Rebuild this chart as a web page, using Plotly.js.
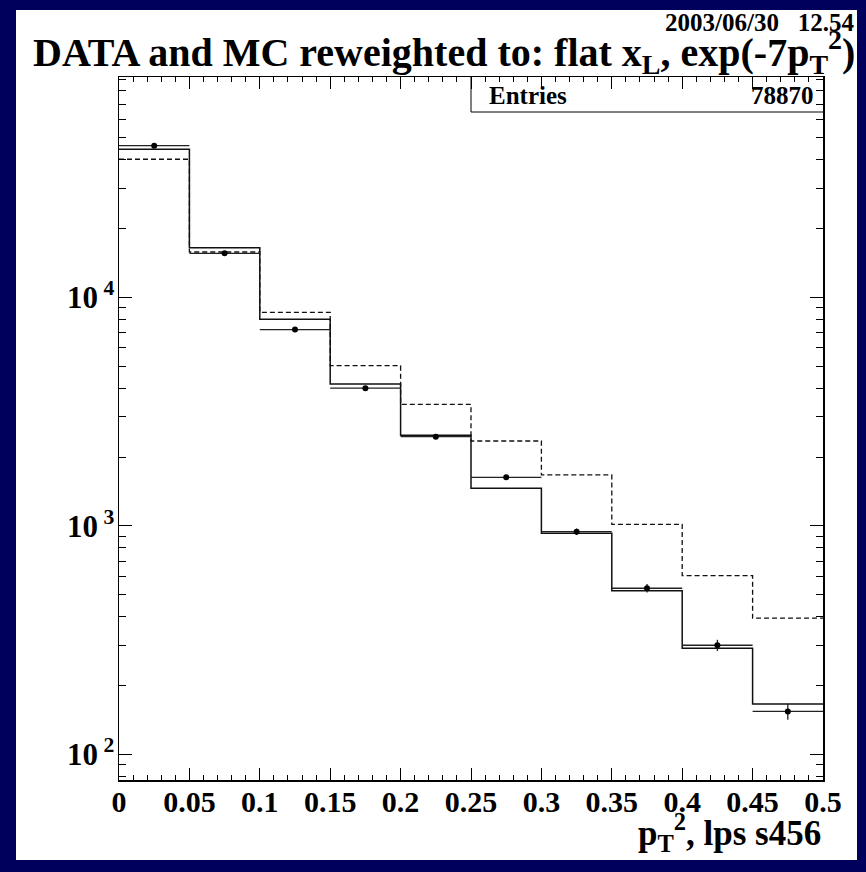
<!DOCTYPE html>
<html>
<head>
<meta charset="utf-8">
<script src="https://cdn.plot.ly/plotly-3.0.1.min.js"></script>
<style>
html,body{margin:0;padding:0;background:#00005c;width:866px;height:872px;overflow:hidden;}
#plot{position:absolute;left:16px;top:10px;width:841px;height:850px;}
</style>
</head>
<body>
<div id="plot"></div>
<script>
// bin edges (p_T^2)
const binEdges = [0, 0.05, 0.1, 0.15, 0.2, 0.25, 0.3, 0.35, 0.4, 0.45, 0.5];
const binCenters = [0.025, 0.075, 0.125, 0.175, 0.225, 0.275, 0.325, 0.375, 0.425, 0.475];
// DATA points
const dataValues = [46080, 15580, 7220, 4000, 2455, 1630, 942, 533, 300, 154];
const dataErrors = [215, 125, 85, 63, 50, 40, 31, 23, 17, 12.4];
// MC reweighted (solid)
const mcReweighted = [44430, 16490, 8010, 4175, 2489, 1459, 927, 520, 291, 166];
// MC original (dashed)
const mcOriginal = [40180, 15780, 8590, 5020, 3396, 2350, 1669, 1015, 605, 394];
// tick labels
const xTickVals = [0, 0.05, 0.1, 0.15, 0.2, 0.25, 0.3, 0.35, 0.4, 0.45, 0.5];
const xTickText = ['0', '0.05', '0.1', '0.15', '0.2', '0.25', '0.3', '0.35', '0.4', '0.45', '0.5'];
const yTickVals = [100, 1000, 10000];
const yTickText = ['10<sup> 2</sup>', '10<sup> 3</sup>', '10<sup> 4</sup>'];
const entries = 78870;

const FONT = 'Liberation Serif, Times New Roman, serif';

function stepY(vals){ return vals.concat([vals[vals.length-1]]); }

const yMinor = [];
for (let d = 10; d <= 10000; d *= 10) for (let k = 2; k <= 9; k++) yMinor.push(k*d);

const traces = [
  {x: binEdges, y: stepY(mcOriginal), mode: 'lines', line: {shape: 'hv', color: '#111', width: 1.3, dash: '5px,3px'}, hoverinfo: 'skip'},
  {x: binEdges, y: stepY(mcReweighted), mode: 'lines', line: {shape: 'hv', color: '#111', width: 1.5}, hoverinfo: 'skip'},
  {x: binCenters, y: dataValues, mode: 'markers', marker: {color: '#000', size: 6},
   error_x: {type: 'constant', value: 0.025, width: 0, color: '#222', thickness: 1.3},
   error_y: {type: 'data', array: dataErrors, width: 0, color: '#222', thickness: 1.3}}
];

// pixel helpers relative to plot area (x:119-823, y:77-780 in page)
const L = 119, R = 823, T = 77, B = 780;
const px = X => (X - L) / (R - L);
const py = Y => (B - Y) / (B - T);

const layout = {
  width: 841, height: 850,
  margin: {l: 103, r: 34, t: 67, b: 80},
  paper_bgcolor: '#ffffff', plot_bgcolor: '#ffffff',
  showlegend: false,
  font: {family: FONT, color: '#000', size: 30, weight: 'bold'},
  xaxis: {
    range: [0, 0.5], tickmode: 'array', tickvals: xTickVals, ticktext: xTickText,
    ticks: 'inside', ticklen: 12, tickwidth: 1, tickcolor: '#000',
    mirror: 'allticks', showline: true, linecolor: '#000', linewidth: 1.5,
    showgrid: false, zeroline: false, ticklabelstandoff: -6,
    tickfont: {family: FONT, size: 30, weight: 'bold'},
    minor: {dtick: 0.01, tick0: 0, ticks: 'inside', ticklen: 5, tickcolor: '#000', tickwidth: 1, showgrid: false}
  },
  yaxis: {
    type: 'log', range: [1.8875, 4.964], tickmode: 'array', tickvals: yTickVals, ticktext: yTickText,
    ticks: 'inside', ticklen: 13, tickwidth: 1, tickcolor: '#000',
    mirror: 'allticks', showline: true, linecolor: '#000', linewidth: 1.5,
    showgrid: false, zeroline: false, ticklabelstandoff: -3,
    tickfont: {family: FONT, size: 31, weight: 'bold'},
    minor: {tickmode: 'array', tickvals: yMinor, ticks: 'inside', ticklen: 7, tickcolor: '#000', tickwidth: 1, showgrid: false}
  },
  shapes: [
    {type: 'line', xref: 'x', yref: 'paper', x0: 0.25, x1: 0.25, y0: py(112), y1: 1, line: {color: '#000', width: 1}},
    {type: 'line', xref: 'x', yref: 'paper', x0: 0.25, x1: 0.5, y0: py(112), y1: py(112), line: {color: '#000', width: 1}}
  ],
  annotations: [
    {xref: 'paper', yref: 'paper', x: px(857), y: py(52), xanchor: 'right', yanchor: 'middle', showarrow: false,
     text: 'DATA and MC reweighted to: flat x<sub>L</sub>, exp(-7p<sub>T</sub><sup>2</sup>)',
     font: {family: FONT, size: 40, weight: 'bold', color: '#000'}},
    {xref: 'paper', yref: 'paper', x: px(856), y: py(22), xanchor: 'right', yanchor: 'middle', showarrow: false,
     text: '2003/06/30   12.54', font: {family: FONT, size: 25, weight: 'bold', color: '#000'}},
    {xref: 'paper', yref: 'paper', x: px(487), y: py(95), xanchor: 'left', yanchor: 'middle', showarrow: false,
     text: 'Entries', font: {family: FONT, size: 25, weight: 'bold', color: '#000'}},
    {xref: 'paper', yref: 'paper', x: px(816), y: py(95), xanchor: 'right', yanchor: 'middle', showarrow: false,
     text: String(entries), font: {family: FONT, size: 25, weight: 'bold', color: '#000'}},
    {xref: 'paper', yref: 'paper', x: px(823), y: py(832), xanchor: 'right', yanchor: 'middle', showarrow: false,
     text: 'p<sub>T</sub><sup>2</sup>, lps s456', font: {family: FONT, size: 35, weight: 'bold', color: '#000'}}
  ]
};

Plotly.newPlot('plot', traces, layout, {staticPlot: true, displayModeBar: false});
</script>
</body>
</html>
